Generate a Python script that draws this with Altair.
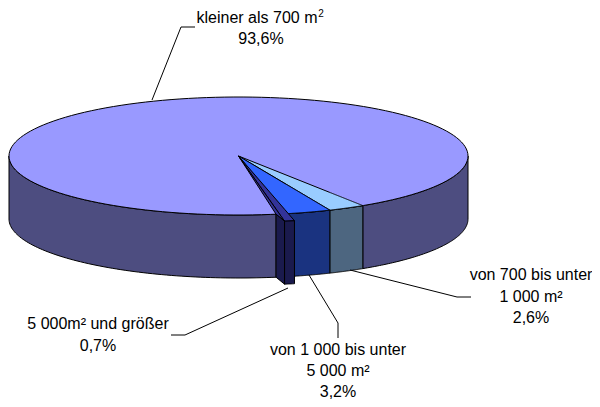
import numpy as np
import pandas as pd
import altair as alt

# --- data
categories = ["kleiner als 700 m²", "von 700 bis unter 1 000 m²",
              "von 1 000 bis unter 5 000 m²", "5 000m² und größer"]
shares = [93.6, 2.6, 3.2, 0.7]
top_colors = ["#9999FF", "#99CCFF", "#3366FF", "#333399"]
side_colors = ["#4D4D80", "#4D6680", "#1A3380", "#1A1A4D"]

# --- layout of the pseudo-3D pie (page pixels)
CX, CY, RX, RY, DEPTH = 238.5, 156.0, 229.5, 59.0, 63.0
START = 32.8            # degrees, right edge of the light blue slice, 0 = front
SHIFT = (8.5, 7.0)      # explosion of the smallest slice
W, H = 584, 391

XS = alt.Scale(domain=[8, 8 + W], range=[0, W], nice=False, zero=False)
YS = alt.Scale(domain=[8, 8 + H], range=[0, H], nice=False, zero=False)


def E(t, dy=0.0, off=(0.0, 0.0)):
    r = np.radians(t)
    return (CX + RX * np.sin(r) + off[0], CY + RY * np.cos(r) + dy + off[1])


def arc(a, b, dy=0.0, off=(0.0, 0.0), n=80):
    return [E(t, dy, off) for t in np.linspace(a, b, n)]


def polygon_df(pts):
    """Upper and lower outline of an x-monotone polygon, for an area mark."""
    pts = list(pts)
    edges = list(zip(pts, pts[1:] + pts[:1]))
    rows = []
    for x in sorted({p[0] for p in pts}):
        ys = []
        for (x0, y0), (x1, y1) in edges:
            if min(x0, x1) <= x <= max(x0, x1):
                if x0 == x1:
                    ys += [y0, y1]
                else:
                    ys.append(y0 + (y1 - y0) * (x - x0) / (x1 - x0))
        rows.append({"x": x, "y": min(ys), "y2": max(ys)})
    return pd.DataFrame(rows)


def shape(pts, color):
    return alt.Chart(polygon_df(pts)).mark_area(
        color=color, stroke="black", strokeWidth=1, strokeJoin="round"
    ).encode(
        x=alt.X("x:Q", scale=XS, axis=None),
        y=alt.Y("y:Q", scale=YS, axis=None),
        y2="y2:Q",
    )


def wall(a, b, color, off=(0.0, 0.0)):
    return shape(arc(a, b, 0, off) + arc(b, a, DEPTH, off), color)


total = sum(shares)
span = [s / total * 360 for s in shares]
t1 = START
t2 = t1 - span[1]
t3 = t2 - span[2]
t4 = t3 - span[3]
apex = (CX, CY)

layers = [
    wall(-90, t4, side_colors[0]),
    wall(t1, 90, side_colors[0]),
    wall(t2, t1, side_colors[1]),
    wall(t3, t2, side_colors[2]),
    shape(arc(-90, 90) + arc(90, 270), top_colors[0]),
    shape([apex] + arc(t2, t1), top_colors[1]),
    shape([apex] + arc(t3, t2), top_colors[2]),
    # exploded slice
    shape([apex, E(t4, 0, SHIFT), E(t3, 0, SHIFT)], top_colors[3]),
    shape([apex, E(t4), E(t4, 0, SHIFT)], top_colors[3]),
    shape([E(t4), E(t4, 0, SHIFT), E(t4, DEPTH, SHIFT), E(t4, DEPTH)], side_colors[3]),
    wall(t4, t3, side_colors[3], SHIFT),
]

# --- leader lines
leaders = [
    [(152, 100), (181, 27), (195, 27)],
    [(350, 270), (457, 297), (471, 297)],
    [(309, 275), (338, 323), (338, 338)],
    [(288, 288), (185, 335), (171, 335)],
]
for line in leaders:
    df = pd.DataFrame({"x": [p[0] for p in line], "y": [p[1] for p in line],
                       "i": range(len(line))})
    layers.append(alt.Chart(df).mark_line(color="black", strokeWidth=1).encode(
        x=alt.X("x:Q", scale=XS, axis=None),
        y=alt.Y("y:Q", scale=YS, axis=None),
        order="i:O",
    ))

# --- labels
label_text = ["kleiner als 700 m", "93,6%",
              "von 700 bis unter", "1 000 m²", "2,6%",
              "von 1 000 bis unter", "5 000 m²", "3,2%",
              "5 000m² und größer", "0,7%"]
label_x = [257, 261, 531, 531, 531, 338, 338, 338, 98, 98]
label_y = [23, 44, 280, 302, 323, 355, 376, 397, 329, 351]
labels = pd.DataFrame({"x": label_x, "y": label_y, "t": label_text})
layers.append(alt.Chart(labels).mark_text(
    font="Liberation Sans", fontSize=16, align="center", baseline="alphabetic", color="black"
).encode(
    x=alt.X("x:Q", scale=XS, axis=None),
    y=alt.Y("y:Q", scale=YS, axis=None),
    text="t:N",
))
sup = pd.DataFrame({"x": [321], "y": [17], "t": ["2"]})
layers.append(alt.Chart(sup).mark_text(
    font="Liberation Sans", fontSize=10, align="center", baseline="alphabetic", color="black"
).encode(
    x=alt.X("x:Q", scale=XS, axis=None),
    y=alt.Y("y:Q", scale=YS, axis=None),
    text="t:N",
))

chart = alt.layer(*layers).properties(
    width=W, height=H, padding=0,
    autosize=alt.AutoSizeParams(type="none"),
).configure_view(stroke=None)

chart.save("out.html", embed_options={"renderer": "svg", "actions": False})
